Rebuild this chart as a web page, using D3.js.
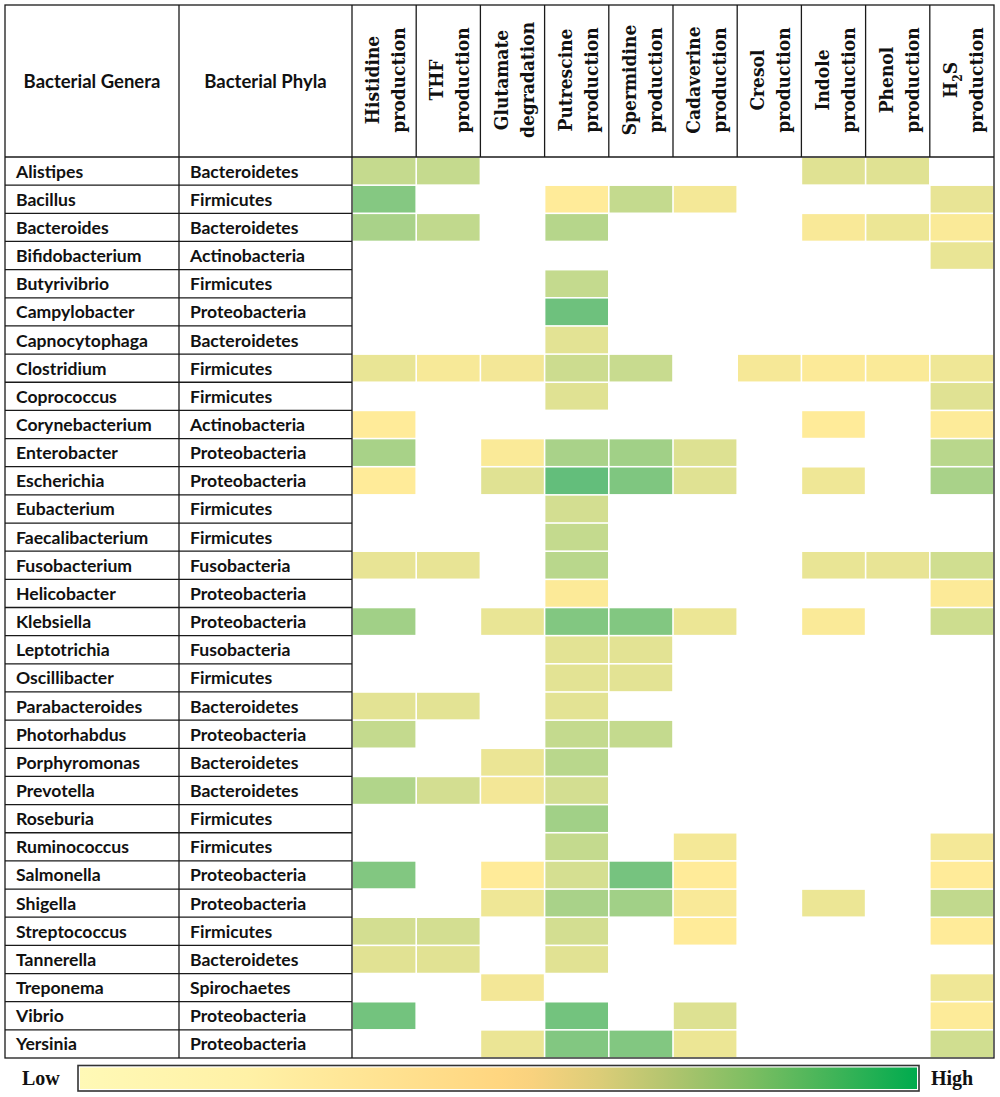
<!DOCTYPE html>
<html>
<head>
<meta charset="utf-8">
<script src="https://cdn.jsdelivr.net/npm/d3@7"></script>
<style>
  html, body { margin: 0; padding: 0; background: #fff; }
  svg { display: block; }
</style>
</head>
<body>
<svg id="chart" width="1000" height="1097"></svg>
<script>
// ---------------- DATA ----------------
const genera = ["Alistipes","Bacillus","Bacteroides","Bifidobacterium","Butyrivibrio","Campylobacter","Capnocytophaga","Clostridium","Coprococcus","Corynebacterium","Enterobacter","Escherichia","Eubacterium","Faecalibacterium","Fusobacterium","Helicobacter","Klebsiella","Leptotrichia","Oscillibacter","Parabacteroides","Photorhabdus","Porphyromonas","Prevotella","Roseburia","Ruminococcus","Salmonella","Shigella","Streptococcus","Tannerella","Treponema","Vibrio","Yersinia"];

const phyla = ["Bacteroidetes","Firmicutes","Bacteroidetes","Actinobacteria","Firmicutes","Proteobacteria","Bacteroidetes","Firmicutes","Firmicutes","Actinobacteria","Proteobacteria","Proteobacteria","Firmicutes","Firmicutes","Fusobacteria","Proteobacteria","Proteobacteria","Fusobacteria","Firmicutes","Bacteroidetes","Proteobacteria","Bacteroidetes","Bacteroidetes","Firmicutes","Firmicutes","Proteobacteria","Proteobacteria","Firmicutes","Bacteroidetes","Spirochaetes","Proteobacteria","Proteobacteria"];

const pathways = ["Histidine production","THF production","Glutamate degradation","Putrescine production","Spermidine production","Cadaverine production","Cresol production","Indole production","Phenol production","H2S production"];

const headerLine1 = ["Histidine","THF","Glutamate","Putrescine","Spermidine","Cadaverine","Cresol","Indole","Phenol","H2S"];
const headerLine2 = ["production","production","degradation","production","production","production","production","production","production","production"];

// relative abundance (0 = low, 1 = high); null = absent
// columns: His, THF, Glu, Put, Spd, Cad, Cresol, Indole, Phenol, H2S
const intensity = [
  [0.37,0.37,null,null,null,null,null,0.20,0.20,null], // Alistipes
  [0.78,null,null,0.00,0.38,0.07,null,null,null,0.15], // Bacillus
  [0.55,0.40,null,0.47,null,null,null,0.04,0.12,0.03], // Bacteroides
  [null,null,null,null,null,null,null,null,null,0.14], // Bifidobacterium
  [null,null,null,0.38,null,null,null,null,null,null], // Butyrivibrio
  [null,null,null,0.93,null,null,null,null,null,null], // Campylobacter
  [null,null,null,0.18,null,null,null,null,null,null], // Capnocytophaga
  [0.14,0.05,0.08,0.33,0.35,null,0.06,0.02,0.03,0.10], // Clostridium
  [null,null,null,0.20,null,null,null,null,null,0.20], // Coprococcus
  [0.00,null,null,null,null,null,null,0.00,null,0.01], // Corynebacterium
  [0.56,null,0.03,0.55,0.60,0.22,null,null,null,0.45], // Enterobacter
  [0.00,null,0.20,1.00,0.82,0.20,null,0.10,null,0.55], // Escherichia
  [null,null,null,0.28,null,null,null,null,null,null], // Eubacterium
  [null,null,null,0.38,null,null,null,null,null,null], // Faecalibacterium
  [0.15,0.15,null,0.45,null,null,null,0.14,0.15,0.30], // Fusobacterium
  [null,null,null,0.02,null,null,null,null,null,0.02], // Helicobacter
  [0.60,null,0.14,0.80,0.80,0.12,null,0.03,null,0.32], // Klebsiella
  [null,null,null,0.18,0.18,null,null,null,null,null], // Leptotrichia
  [null,null,null,0.18,0.18,null,null,null,null,null], // Oscillibacter
  [0.18,0.18,null,0.18,null,null,null,null,null,null], // Parabacteroides
  [0.38,null,null,0.38,0.38,null,null,null,null,null], // Photorhabdus
  [null,null,0.13,0.45,null,null,null,null,null,null], // Porphyromonas
  [0.50,0.28,0.08,0.28,null,null,null,null,null,null], // Prevotella
  [null,null,null,0.60,null,null,null,null,null,null], // Roseburia
  [null,null,null,0.38,null,0.07,null,null,null,0.07], // Ruminococcus
  [0.80,null,0.00,0.27,0.88,0.00,null,null,null,0.00], // Salmonella
  [null,null,0.10,0.55,0.60,0.04,null,0.12,null,0.40], // Shigella
  [0.28,0.28,null,0.28,null,0.00,null,null,null,0.00], // Streptococcus
  [0.19,0.19,null,0.19,null,null,null,null,null,null], // Tannerella
  [null,null,0.08,null,null,null,null,null,null,0.10], // Treponema
  [0.90,null,null,0.90,null,0.22,null,null,null,0.01], // Vibrio
  [null,null,0.13,0.80,0.80,0.12,null,null,null,0.30]  // Yersinia
];

const legendLabels = ["Low","High"];
const legendStops = [
  [0.00,"#FFF9B6"],[0.20,"#FFF1A6"],[0.50,"#FFD680"],[0.54,"#F9D27E"],
  [0.62,"#DCCD78"],[0.70,"#B4C56F"],[0.80,"#7DBE62"],[0.90,"#40B458"],[1.00,"#00AB4E"]
];

// ---------------- LAYOUT ----------------
const svg = d3.select("#chart");
const L = 5, T = 5, R = 994, HB = 157, B = 1058;
const C1 = 179, C2 = 352;
const lineColor = "#1a1a1a";

const y = d3.scaleBand().domain(genera).range([HB, B]);
const x = d3.scaleBand().domain(pathways).range([C2, R]);
const color = d3.scaleLinear().domain([0, 1]).range(["#FFEB99", "#63BE7B"]).interpolate(d3.interpolateRgb);

// cells
const cells = [];
intensity.forEach((row, i) => row.forEach((v, j) => {
  if (v !== null) cells.push({ g: genera[i], p: pathways[j], v });
}));
svg.append("g").selectAll("rect").data(cells).join("rect")
  .attr("x", d => x(d.p) + 0.8)
  .attr("y", d => y(d.g) + 0.8)
  .attr("width", x.bandwidth() - 1.6)
  .attr("height", y.bandwidth() - 1.6)
  .attr("fill", d => color(d.v));

// grid lines
const grid = svg.append("g").attr("stroke", lineColor).attr("stroke-width", 1.3).attr("fill", "none");
grid.append("rect").attr("x", L).attr("y", T).attr("width", R - L).attr("height", B - T);
grid.append("line").attr("x1", L).attr("x2", R).attr("y1", HB).attr("y2", HB);
[C1, C2].forEach(cx => grid.append("line").attr("x1", cx).attr("x2", cx).attr("y1", T).attr("y2", B));
pathways.slice(1).forEach(p => grid.append("line").attr("x1", x(p)).attr("x2", x(p)).attr("y1", T).attr("y2", HB));
genera.slice(1).forEach(g => grid.append("line").attr("x1", L).attr("x2", C2).attr("y1", y(g)).attr("y2", y(g)));

// header text (left)
const sansFont = "Lato, 'Open Sans', sans-serif";
const fsLab = 17.6;
svg.append("text").attr("x", (L + C1) / 2).attr("y", 81)
  .attr("text-anchor", "middle").attr("dominant-baseline", "central")
  .attr("font-family", sansFont).attr("font-weight", "bold").attr("font-size", 18.5).attr("fill", "#111")
  .text("Bacterial Genera");
svg.append("text").attr("x", (C1 + C2) / 2).attr("y", 81)
  .attr("text-anchor", "middle").attr("dominant-baseline", "central")
  .attr("font-family", sansFont).attr("font-weight", "bold").attr("font-size", 18.5).attr("fill", "#111")
  .text("Bacterial Phyla");

// row labels
const rows = svg.append("g").attr("font-family", sansFont).attr("font-weight", "bold").attr("font-size", fsLab).attr("fill", "#111");
rows.selectAll("text.g").data(genera).join("text").attr("class", "g")
  .attr("x", 16).attr("y", d => y(d) + y.bandwidth() / 2).attr("dominant-baseline", "central").text(d => d);
rows.selectAll("text.p").data(phyla).join("text").attr("class", "p")
  .attr("x", 190).attr("y", (d, i) => y(genera[i]) + y.bandwidth() / 2).attr("dominant-baseline", "central").text(d => d);

// column headers (rotated)
const serifFont = "'DejaVu Serif Condensed', 'DejaVu Serif', serif";
const hdr = svg.append("g").attr("font-family", serifFont).attr("font-weight", "bold").attr("font-size", 19).attr("fill", "#111")
  .attr("font-stretch", "condensed");
pathways.forEach((p, j) => {
  const cx = x(p) + x.bandwidth() / 2;
  const t1 = hdr.append("text").attr("transform", `translate(${cx - 5},80) rotate(-90)`).attr("text-anchor", "middle");
  if (headerLine1[j] === "H2S") {
    t1.append("tspan").text("H");
    t1.append("tspan").attr("font-size", 12).attr("dy", 5).text("2");
    t1.append("tspan").attr("dy", -5).text("S");
  } else {
    t1.text(headerLine1[j]);
  }
  hdr.append("text").attr("transform", `translate(${cx + 21},80) rotate(-90)`).attr("text-anchor", "middle").text(headerLine2[j]);
});

// legend
const defs = svg.append("defs");
const grad = defs.append("linearGradient").attr("id", "lg").attr("x1", "0%").attr("x2", "100%");
grad.selectAll("stop").data(legendStops).join("stop")
  .attr("offset", d => d[0] * 100 + "%").attr("stop-color", d => d[1]);
const lx = d3.scaleLinear().domain([0, 1]).range([78, 919]);
svg.append("rect").attr("x", lx(0)).attr("y", 1065.5).attr("width", lx(1) - lx(0)).attr("height", 25.5)
  .attr("fill", "#fff").attr("stroke", "#333").attr("stroke-width", 1.6);
svg.append("rect").attr("x", lx(0) + 2).attr("y", 1067.5).attr("width", lx(1) - lx(0) - 4).attr("height", 21.5)
  .attr("fill", "url(#lg)");
const legFont = "'Liberation Serif', 'Times New Roman', serif";
svg.append("text").attr("x", 22).attr("y", 1085).attr("font-family", legFont).attr("font-weight", "bold").attr("font-size", 20).attr("fill", "#111").text(legendLabels[0]);
svg.append("text").attr("x", 931).attr("y", 1085).attr("font-family", legFont).attr("font-weight", "bold").attr("font-size", 20).attr("fill", "#111").text(legendLabels[1]);
</script>
</body>
</html>
